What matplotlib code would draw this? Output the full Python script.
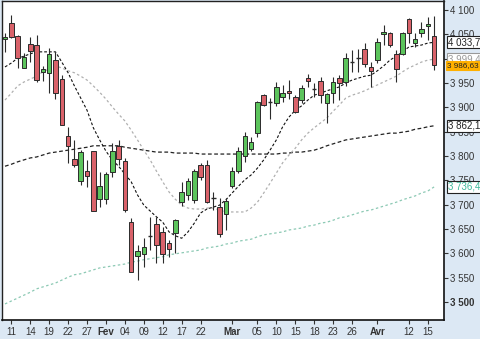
import matplotlib
matplotlib.use("Agg")
import matplotlib.pyplot as plt
import numpy as np

plt.rcParams['font.family'] = ['Liberation Sans', 'DejaVu Sans']

opens = [4040, 4073, 4047, 3981, 4030, 4028, 3973, 3970, 3997, 3958,
         3841, 3794, 3749, 3769, 3810, 3712, 3712, 3767, 3821, 3790,
         3664, 3594, 3599, 3637, 3660, 3644, 3621, 3642, 3705, 3720,
         3710, 3781, 3781, 3715, 3695, 3681, 3738, 3769, 3800, 3814,
         3847, 3925, 3911, 3909, 3921, 3934, 3921, 3915, 3960, 3939,
         3954, 3909, 3929, 3960, 3952, 3994, 4002, 4020, 3983, 3997,
         4051, 4053, 4010, 4010, 4081, 4032, 4053, 4067, 4047]
highs = [4053, 4090, 4049, 4012, 4044, 4049, 3985, 4022, 4014, 3966,
         3860, 3833, 3812, 3792, 3810, 3767, 3767, 3827, 3833, 3796,
         3673, 3617, 3631, 3675, 3675, 3654, 3627, 3670, 3747, 3755,
         3773, 3786, 3792, 3726, 3714, 3714, 3777, 3818, 3849, 3839,
         3913, 3927, 3919, 3952, 3946, 3956, 3925, 3946, 3968, 3950,
         3962, 3929, 3962, 3966, 4012, 4018, 4020, 4032, 3993, 4042,
         4069, 4055, 4018, 4055, 4084, 4053, 4075, 4086, 4088]
lows = [4014, 4042, 3981, 3981, 3993, 3952, 3954, 3929, 3917, 3864,
        3786, 3777, 3740, 3736, 3687, 3695, 3701, 3757, 3781, 3685,
        3562, 3545, 3572, 3607, 3580, 3580, 3592, 3601, 3697, 3710,
        3703, 3751, 3703, 3689, 3634, 3648, 3734, 3765, 3788, 3810,
        3839, 3903, 3876, 3903, 3911, 3917, 3888, 3909, 3942, 3921,
        3909, 3868, 3909, 3915, 3944, 3973, 3973, 3983, 3942, 3991,
        4028, 4024, 3952, 4008, 4032, 4024, 4044, 4038, 3977]
closes = [4044, 4044, 4001, 4003, 4016, 3956, 3979, 4010, 3929, 3864,
          3821, 3781, 3808, 3759, 3687, 3738, 3763, 3810, 3794, 3689,
          3562, 3605, 3613, 3635, 3617, 3599, 3609, 3668, 3726, 3749,
          3769, 3757, 3705, 3713, 3640, 3707, 3769, 3810, 3841, 3829,
          3911, 3905, 3909, 3942, 3929, 3929, 3890, 3940, 3954, 3937,
          3925, 3927, 3952, 3950, 4001, 3992, 4001, 3989, 3975, 4034,
          4055, 4028, 3979, 4053, 4053, 4040, 4061, 4071, 3986.63]

ma_short = [3983, 3991, 4001, 4005, 4010, 4014, 4014, 4014, 4014, 3993,
            3971, 3944, 3919, 3894, 3858, 3833, 3810, 3792, 3779, 3763,
            3747, 3720, 3699, 3687, 3675, 3664, 3644, 3636, 3631, 3644,
            3662, 3683, 3691, 3695, 3699, 3710, 3724, 3738, 3751, 3761,
            3775, 3792, 3812, 3833, 3860, 3880, 3894, 3903, 3915, 3925,
            3929, 3934, 3938, 3942, 3950, 3956, 3960, 3964, 3966, 3975,
            3985, 3997, 4005, 4014, 4024, 4026, 4028, 4032, 4033.7]
ma_mid = [3915, 3929, 3944, 3952, 3958, 3964, 3973, 3979, 3985, 3981,
          3975, 3971, 3964, 3956, 3944, 3931, 3917, 3901, 3886, 3872,
          3853, 3833, 3812, 3792, 3769, 3747, 3726, 3711, 3699, 3693,
          3691, 3691, 3693, 3693, 3689, 3685, 3685, 3685, 3685, 3693,
          3705, 3724, 3744, 3765, 3786, 3802, 3816, 3833, 3847, 3858,
          3868, 3878, 3892, 3905, 3919, 3925, 3929, 3934, 3940, 3946,
          3952, 3958, 3964, 3973, 3981, 3987, 3993, 3997, 3999]
ma_long = [3779, 3783, 3788, 3792, 3796, 3798, 3802, 3806, 3808, 3810,
           3812, 3814, 3816, 3818, 3821, 3821, 3821, 3821, 3821, 3818,
           3816, 3814, 3812, 3810, 3808, 3808, 3808, 3806, 3806, 3806,
           3806, 3804, 3804, 3804, 3804, 3804, 3804, 3804, 3804, 3804,
           3804, 3804, 3804, 3804, 3806, 3806, 3808, 3808, 3810, 3812,
           3816, 3821, 3825, 3829, 3833, 3835, 3837, 3839, 3841, 3843,
           3845, 3847, 3847, 3849, 3851, 3855, 3857, 3860, 3862.1]
ma_xlong = [3496, 3502, 3508, 3514, 3520, 3527, 3531, 3535, 3539, 3545,
            3551, 3556, 3558, 3562, 3566, 3570, 3572, 3574, 3576, 3578,
            3582, 3584, 3587, 3589, 3591, 3593, 3597, 3599, 3601, 3603,
            3605, 3607, 3611, 3613, 3615, 3619, 3621, 3625, 3627, 3629,
            3634, 3638, 3640, 3642, 3644, 3648, 3650, 3652, 3656, 3658,
            3662, 3664, 3668, 3673, 3675, 3679, 3683, 3687, 3689, 3693,
            3697, 3701, 3705, 3710, 3714, 3718, 3724, 3728, 3736.4]

tick_idx = [1, 4, 7, 10, 13, 16, 19, 22, 25, 28, 31, 36, 40, 43, 46, 49, 52, 55, 59, 64, 67]
tick_labels = ["11", "14", "19", "22", "27", "Fev", "04", "09", "12", "17", "22",
               "Mar", "05", "10", "15", "18", "23", "26", "Avr", "12", "15"]
month_labels = {"Fev", "Mar", "Avr"}

y_ticks = [3500, 3550, 3600, 3650, 3700, 3750, 3800, 3850, 3900, 3950, 4000, 4050, 4100]

W, H = 481, 339
fig = plt.figure(figsize=(W / 100, H / 100), dpi=100)
fig.patch.set_facecolor('#dce8f4')
ax = fig.add_axes([2 / W, 19 / H, 442 / W, 319 / H])
ax.set_facecolor('white')

n = len(closes)
x = np.arange(n)
bw = 0.72
red = '#d9626a'
green = '#5cc45c'
edge = '#2b2b2b'

# moving averages
ax.plot(x, ma_xlong, color='#8cc9b4', lw=0.9, ls=(0, (2, 2)), zorder=1)
ax.plot(x, ma_long, color='#222222', lw=0.9, ls=(0, (3, 2)), zorder=1)
ax.plot(x, ma_mid, color='#b0b0b0', lw=0.9, ls=(0, (2, 2)), zorder=1)
ax.plot(x, ma_short, color='#111111', lw=0.8, ls=(0, (2.5, 1.8)), zorder=1)

for i in range(n):
    o, h, l, c = opens[i], highs[i], lows[i], closes[i]
    ax.vlines(x[i], l, h, color=edge, lw=0.8, zorder=2)
    if abs(c - o) < 3:
        ax.hlines((o + c) / 2, x[i] - bw / 2, x[i] + bw / 2, color=edge, lw=1.0, zorder=3)
    else:
        col = green if c > o else red
        ax.bar(x[i], abs(c - o), bottom=min(o, c), width=bw, color=col,
               edgecolor=edge, linewidth=0.7, zorder=3)

ax.set_xlim(-0.475, 69.57)
ax.set_ylim(3463, 4118.5)

for s in ['left', 'top']:
    ax.spines[s].set_color('#222222')
    ax.spines[s].set_linewidth(1.0)
ax.spines['right'].set_color('#111111')
ax.spines['bottom'].set_color('#111111')
ax.spines['right'].set_linewidth(1.2)
ax.spines['bottom'].set_linewidth(1.2)

ax.yaxis.tick_right()
ax.set_yticks(y_ticks)
ax.set_yticklabels([f"{v // 1000} {v % 1000:03d}" for v in y_ticks], fontsize=7, color='#333333')
for lab in ax.get_yticklabels():
    if lab.get_text() == "3 500":
        lab.set_fontweight('bold')
ax.tick_params(axis='y', direction='out', length=3, width=0.8, pad=1, color='#333333')

ax.set_xticks(tick_idx)
ax.set_xticklabels(tick_labels, fontsize=7, color='#333333')
for lab in ax.get_xticklabels():
    if lab.get_text() in month_labels:
        lab.set_fontweight('bold')
ax.tick_params(axis='x', direction='out', length=3, width=0.8, pad=2, color='#333333')

# right-side value labels
tr = ax.get_yaxis_transform()
def vlabel(val, text, fc='white', tc='#222222', ec='#222222', fs=7, xpos=1.009):
    ax.text(xpos, val, text, transform=tr, fontsize=fs, color=tc, va='center', ha='left',
            bbox=dict(boxstyle='square,pad=0.12', fc=fc, ec=ec, lw=0.8), clip_on=False, zorder=10)

vlabel(ma_mid[-1], "3 999,4", fc='white', tc='#999999', ec='#999999')
vlabel(ma_short[-1], "4 033,7")
vlabel(closes[-1], "3 986,63", fc='#ffb000', ec='#ffb000', fs=5.9, xpos=1.006)
vlabel(ma_long[-1], "3 862,1")
vlabel(ma_xlong[-1], "3 736,4", tc='#3cb89a')

fig.savefig("out.png", dpi=100, facecolor=fig.get_facecolor())
